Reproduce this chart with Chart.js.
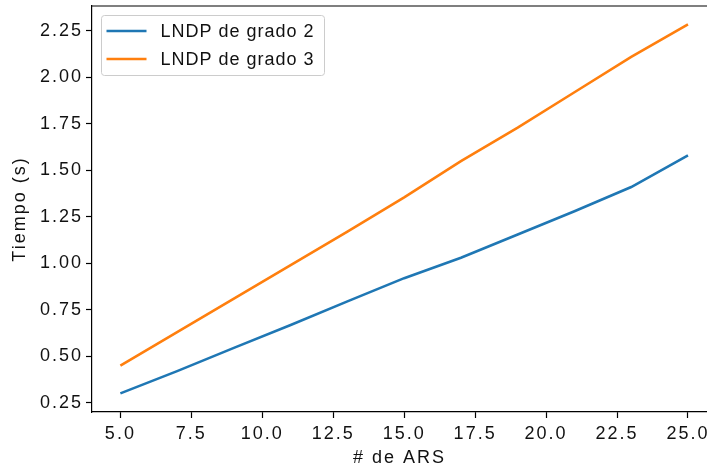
<!DOCTYPE html>
<html><head><meta charset="utf-8">
<script src="https://cdn.jsdelivr.net/npm/chart.js@4/dist/chart.umd.min.js"></script>
<style>html,body{margin:0;padding:0;background:#fff;overflow:hidden}#wrap{width:707px;height:471px}</style>
</head><body><div id="wrap"><canvas id="c" width="707" height="471"></canvas></div>
<script>
const numARS = [5, 7, 9, 11, 13, 15, 17, 19, 21, 23, 25];
const grado2 = [0.30, 0.42, 0.545, 0.668, 0.795, 0.92, 1.03, 1.155, 1.28, 1.41, 1.58];
const grado3 = [0.45, 0.63, 0.81, 0.99, 1.17, 1.355, 1.55, 1.73, 1.92, 2.11, 2.285];
const seriesLabels = ['LNDP de grado 2', 'LNDP de grado 3'];
const seriesColors = ['#1f77b4', '#ff7f0e'];
const xTicks = [5, 7.5, 10, 12.5, 15, 17.5, 20, 22.5, 25];
const yTicks = [0.25, 0.5, 0.75, 1.0, 1.25, 1.5, 1.75, 2.0, 2.25];
const xTitle = '# de ARS';
const yTitle = 'Tiempo (s)';

const FONT = "'Liberation Sans', Arial, sans-serif";
const LS = '2px';
const LEG_LS = '1px';
const TXT = '#111';

const spacing = {
  id: 'spacing',
  beforeUpdate(c) { c.ctx.letterSpacing = LS; },
  beforeDraw(c) { c.ctx.letterSpacing = LS; }
};

const frame = {
  id: 'frame',
  afterDraw(c) {
    const ctx = c.ctx, a = c.chartArea;
    ctx.save();
    ctx.strokeStyle = '#000';
    ctx.lineWidth = 1.2;
    ctx.beginPath();
    ctx.moveTo(a.left, a.top);
    ctx.lineTo(a.right + 1, a.top);
    ctx.stroke();
    // legend
    const bx = a.left + 9.5, by = a.top + 9.5, bw = 223, bh = 60, r = 3;
    ctx.beginPath();
    ctx.roundRect(bx, by, bw, bh, r);
    ctx.fillStyle = 'rgba(255,255,255,0.8)';
    ctx.fill();
    ctx.strokeStyle = '#cccccc';
    ctx.lineWidth = 1;
    ctx.stroke();
    ctx.font = '18px ' + FONT;
    ctx.letterSpacing = LEG_LS;
    ctx.textBaseline = 'middle';
    ctx.textAlign = 'left';
    c.data.datasets.forEach((ds, i) => {
      const yy = by + 15.5 + i * 28;
      ctx.strokeStyle = ds.borderColor;
      ctx.lineWidth = 2.6;
      ctx.beginPath();
      ctx.moveTo(bx + 5, yy);
      ctx.lineTo(bx + 45, yy);
      ctx.stroke();
      ctx.fillStyle = TXT;
      ctx.fillText(ds.label, bx + 59, yy + 1);
    });
    ctx.restore();
  }
};

new Chart(document.getElementById('c'), {
  type: 'line',
  data: {
    datasets: [
      { label: seriesLabels[0], data: numARS.map((x, i) => ({x, y: grado2[i]})), borderColor: seriesColors[0], backgroundColor: seriesColors[0] },
      { label: seriesLabels[1], data: numARS.map((x, i) => ({x, y: grado3[i]})), borderColor: seriesColors[1], backgroundColor: seriesColors[1] }
    ]
  },
  options: {
    responsive: false,
    animation: false,
    devicePixelRatio: 1,
    layout: { padding: { top: 6, left: 0, right: 0, bottom: 0 } },
    elements: { point: { radius: 0 }, line: { borderWidth: 2.6, tension: 0, borderCapStyle: 'butt' } },
    plugins: { legend: { display: false }, tooltip: { enabled: false } },
    scales: {
      x: {
        type: 'linear', min: 4, max: 25.67, position: 'bottom',
        afterFit(s) { s.height = 59; s.paddingLeft = 0; s.paddingRight = 0; },
        afterBuildTicks(s) { s.ticks = xTicks.map(v => ({ value: v })); },
        ticks: { callback: v => Number(v).toFixed(1), font: { size: 18, family: FONT }, color: TXT, padding: 5, maxRotation: 0, autoSkip: false },
        grid: { drawOnChartArea: false, drawTicks: true, tickLength: 6, color: '#000', tickWidth: 1.2 },
        border: { display: true, color: '#000', width: 1.2 },
        title: { display: true, text: xTitle, font: { size: 18, family: FONT }, color: TXT, padding: { top: 0, bottom: 2 } }
      },
      y: {
        type: 'linear', min: 0.2, max: 2.384, position: 'left',
        afterFit(s) { s.width = 92; s.paddingTop = 0; s.paddingBottom = 0; },
        afterBuildTicks(s) { s.ticks = yTicks.map(v => ({ value: v })); },
        ticks: { callback: v => Number(v).toFixed(2), font: { size: 18, family: FONT }, color: TXT, padding: 3, autoSkip: false },
        grid: { drawOnChartArea: false, drawTicks: true, tickLength: 6, color: '#000', tickWidth: 1.2 },
        border: { display: true, color: '#000', width: 1.2 },
        title: { display: true, text: yTitle, font: { size: 18, family: FONT }, color: TXT, padding: { top: 9, bottom: 0 } }
      }
    }
  },
  plugins: [spacing, frame]
});
</script>
</body></html>
